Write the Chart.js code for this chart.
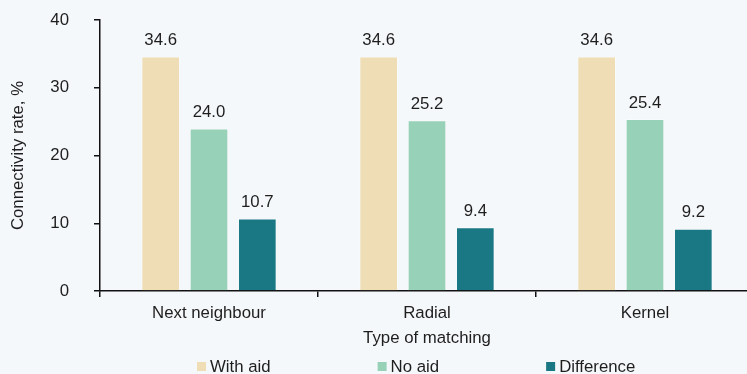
<!DOCTYPE html>
<html>
<head>
<meta charset="utf-8">
<script src="https://cdn.jsdelivr.net/npm/chart.js@4"></script>
<style>
  body { margin: 0; background: #F5F8FA; overflow: hidden; }
  canvas { display: block; }
</style>
</head>
<body>
<!-- a few px wider than the window: the plot runs past the right edge, as in the original -->
<canvas id="chart" width="754" height="374"></canvas>
<script>
// data
const categories = ['Next neighbour', 'Radial', 'Kernel'];
const withAid = [34.6, 34.6, 34.6];
const noAid = [24.0, 25.2, 25.4];
const difference = [10.7, 9.4, 9.2];
const yTicks = [0, 10, 20, 30, 40];

const FONT = 'Arial, "Liberation Sans", sans-serif';
const FS = 16.8;
const textColor = '#1e1e1e';

// value labels above each bar
const valueLabels = {
    id: 'valueLabels',
    afterDatasetsDraw(chart) {
        const ctx = chart.ctx;
        ctx.save();
        ctx.font = `${FS}px ${FONT}`;
        ctx.fillStyle = textColor;
        ctx.textAlign = 'center';
        ctx.textBaseline = 'middle';
        chart.data.datasets.forEach((ds, i) => {
            chart.getDatasetMeta(i).data.forEach((bar, j) => {
                ctx.fillText(ds.data[j].toFixed(1), bar.x, bar.y - 16);
            });
        });
        ctx.restore();
    }
};

// legend spread out under the axis title
const spreadLegend = {
    id: 'spreadLegend',
    afterDraw(chart) {
        const ctx = chart.ctx;
        ctx.save();
        ctx.font = `${FS}px ${FONT}`;
        ctx.textBaseline = 'middle';
        let x = chart.chartArea.left + 97;
        const y = 367;
        chart.data.datasets.forEach(ds => {
            ctx.fillStyle = ds.backgroundColor;
            ctx.fillRect(x, y - 5, 9, 9);
            ctx.fillStyle = textColor;
            ctx.fillText(ds.label, x + 13, y);
            x += 13 + ctx.measureText(ds.label).width + 107;
        });
        ctx.restore();
    }
};

const barStyle = {
    borderWidth: 1,
    borderColor: 'rgba(255,255,255,0.35)',
    categoryPercentage: 0.665,
    barPercentage: 0.8
};

new Chart(document.getElementById('chart'), {
    type: 'bar',
    data: {
        labels: categories,
        datasets: [
            { label: 'With aid', data: withAid, backgroundColor: '#EFDDB5', ...barStyle },
            { label: 'No aid', data: noAid, backgroundColor: '#97D2B8', ...barStyle },
            { label: 'Difference', data: difference, backgroundColor: '#1A7884', ...barStyle }
        ]
    },
    options: {
        responsive: false,
        devicePixelRatio: 1,
        animation: false,
        layout: { padding: { top: 20, bottom: 26, left: 0, right: 0 } },
        plugins: {
            legend: { display: false },
            tooltip: { enabled: false }
        },
        scales: {
            x: {
                grid: { offset: true, drawOnChartArea: false, tickLength: 6, color: '#111', lineWidth: 1.5 },
                border: { color: '#111', width: 1.5 },
                ticks: { color: textColor, font: { family: FONT, size: FS }, padding: 6, maxRotation: 0 },
                title: { display: true, text: 'Type of matching', color: textColor,
                         font: { family: FONT, size: FS }, padding: { top: 0, bottom: 0 } },
                afterFit(scale) { scale.height = 57; }
            },
            y: {
                min: yTicks[0],
                max: yTicks[yTicks.length - 1],
                afterBuildTicks(scale) { scale.ticks = yTicks.map(v => ({ value: v })); },
                grid: { drawOnChartArea: false, tickLength: 6, color: '#111', lineWidth: 1.5 },
                border: { color: '#111', width: 1.5 },
                ticks: { color: textColor, font: { family: FONT, size: FS }, padding: 25 },
                title: { display: true, text: 'Connectivity rate, %', color: textColor,
                         font: { family: FONT, size: FS }, padding: { top: 8, bottom: 0 } },
                afterFit(scale) {
                    scale.width = 100;
                    // tick padding is only meant horizontally here
                    scale.paddingTop = 0;
                    scale.paddingBottom = 0;
                }
            }
        }
    },
    plugins: [valueLabels, spreadLegend]
});
</script>
</body>
</html>
